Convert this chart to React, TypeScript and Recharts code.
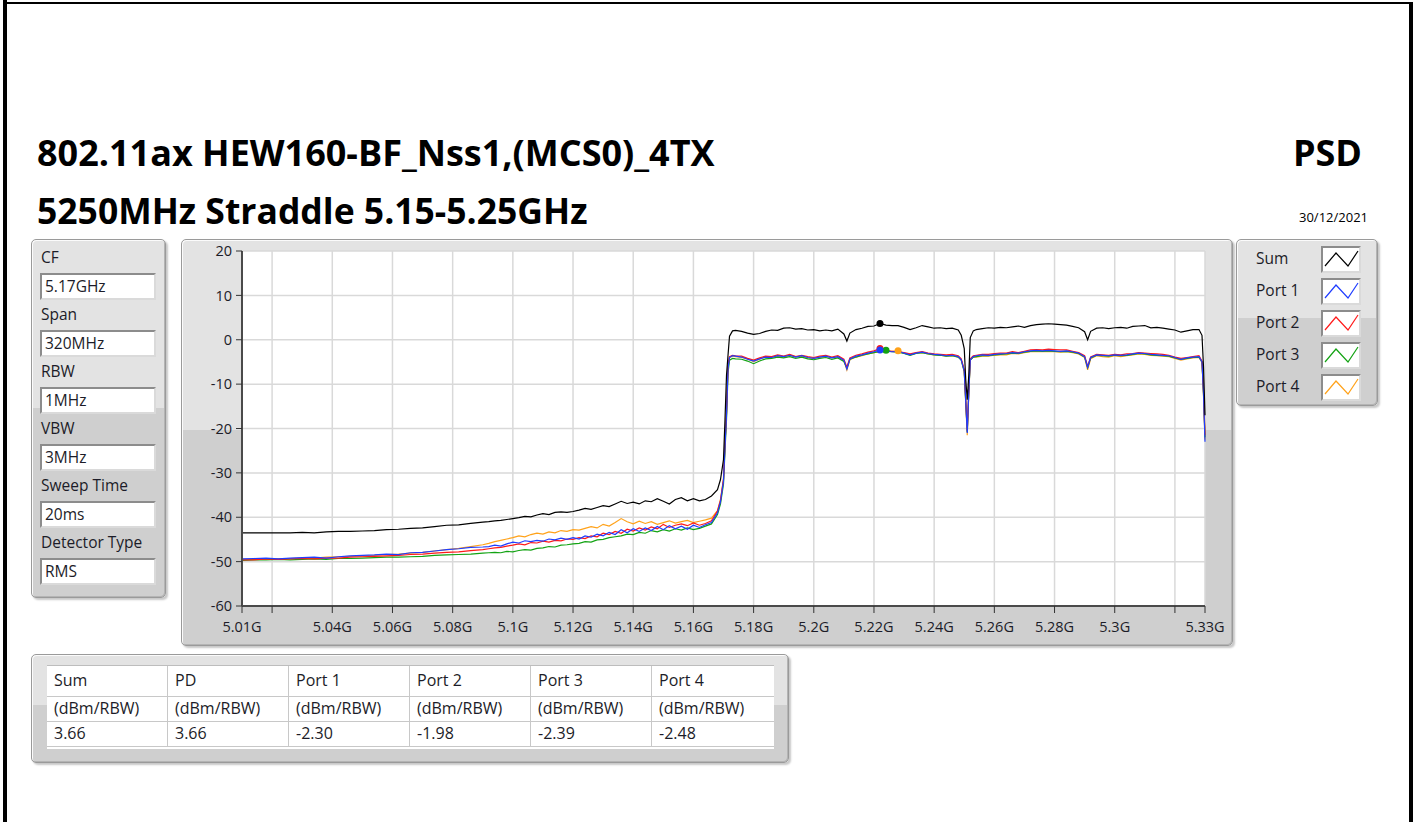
import React from 'react';
import { LineChart, Line, XAxis, YAxis, CartesianGrid, ReferenceDot } from 'recharts';

// frequency in MHz (5.01G .. 5.33G), denser at the band edges and notches
const FREQ_MHZ = [
  5010, 5014, 5018, 5022, 5026, 5030, 5034, 5038, 5042, 5046, 5050, 5054, 5058, 5062, 5066, 5070, 5074, 5078, 5082, 5086, 5090,
  5092, 5094, 5096, 5098, 5100, 5102, 5104, 5106, 5108, 5110, 5112, 5114, 5116, 5118, 5120, 5122, 5124, 5126, 5128, 5130,
  5132, 5134, 5136, 5138, 5140, 5142, 5144, 5146, 5148, 5150, 5152, 5154, 5156, 5158, 5160, 5162, 5164, 5166, 5168,
  5169, 5170, 5170.5, 5171, 5171.5, 5172, 5173, 5174,
  5176, 5178, 5180, 5182, 5184, 5186, 5188, 5190, 5192, 5194, 5196, 5198, 5200, 5202, 5204, 5206, 5208, 5210, 5211,
  5212, 5214, 5216, 5218, 5220, 5222, 5224, 5226, 5228, 5230, 5232, 5234, 5236, 5238, 5240, 5242, 5244, 5246, 5248,
  5249, 5250, 5250.5, 5251, 5251.5, 5252, 5253,
  5254, 5256, 5258, 5260, 5262, 5264, 5266, 5268, 5270, 5272, 5274, 5276, 5278, 5280, 5282, 5284, 5286, 5288, 5290, 5291,
  5292, 5294, 5296, 5298, 5300, 5302, 5304, 5306, 5308, 5310, 5312, 5314, 5316, 5318, 5320, 5322, 5324, 5326, 5328,
  5329, 5329.5, 5330,
];

const SUM = [
  -43.5, -43.5, -43.5, -43.5, -43.5, -43.4, -43.5, -43.3, -43.2, -43.2, -43.1, -43.0, -42.8, -42.7, -42.5, -42.4, -42.1, -41.8, -41.7, -41.4, -41.1,
  -41.0, -40.8, -40.7, -40.5, -40.3, -40.1, -39.8, -39.9, -39.5, -39.2, -39.4, -38.9, -38.8, -38.9, -38.7, -38.4, -38.0, -38.2, -37.8, -37.4,
  -37.6, -37.0, -36.4, -36.9, -36.6, -37.0, -36.3, -36.5, -35.8, -36.4, -37.0, -36.0, -35.6, -36.3, -35.8, -36.3, -36.0, -35.2, -33.8,
  -31.5, -27.0, -18.0, -8.0, -3.5, 0.8, 2.0, 2.1,
  1.9, 1.5, 1.2, 1.4, 1.9, 2.2, 2.1, 2.6, 2.7, 2.4, 2.5, 2.2, 2.3, 2.0, 2.2, 2.0, 2.4, 1.3, -0.3,
  1.5, 2.3, 2.6, 3.0, 3.1, 3.66, 3.3, 3.2, 3.2, 2.8, 2.3, 2.7, 3.2, 2.9, 2.6, 2.7, 2.5, 2.6, 2.2,
  1.0, -2.0, -9.0, -13.5, -8.0, 0.5, 2.0,
  2.3, 2.5, 2.7, 2.6, 2.8, 2.7, 2.9, 3.1, 2.8, 3.2, 3.4, 3.5, 3.6, 3.5, 3.4, 3.3, 3.0, 2.7, 1.8, 0.0,
  1.9, 2.6, 2.7, 2.5, 2.7, 2.8, 2.6, 3.0, 3.1, 3.2, 2.7, 2.8, 2.6, 2.4, 2.2, 1.7, 2.0, 2.3, 2.3,
  1.0, -6.0, -17.0,
];

const PORT1 = [
  -49.4, -49.3, -49.2, -49.4, -49.2, -49.1, -49.0, -49.2, -48.9, -48.7, -48.6, -48.5, -48.3, -48.4, -48.0, -47.9, -47.6, -47.3, -47.1, -46.8, -46.7,
  -46.6, -46.3, -46.5, -46.0, -45.6, -45.8, -45.3, -45.5, -45.2, -45.4, -44.9, -45.1, -44.7, -45.0, -44.6, -44.9, -44.2, -44.5, -43.8, -44.2,
  -43.4, -43.9, -42.8, -43.5, -42.6, -43.2, -42.4, -43.0, -42.1, -42.8, -41.9, -42.6, -42.0, -42.7, -41.8, -42.3, -41.7, -41.2, -39.0,
  -36.5, -31.8, -24.0, -17.0, -6.5, -4.0, -3.6, -3.7,
  -3.9, -4.4, -4.8, -4.3, -3.9, -4.0, -3.6, -3.8, -3.5, -3.9, -3.6, -4.0, -4.2, -3.9, -3.7, -4.1, -3.8, -4.6, -6.6,
  -4.3, -3.7, -3.4, -3.0, -2.7, -2.3, -2.6, -2.7, -2.6, -3.0, -3.4, -3.0, -2.8, -3.1, -3.3, -3.4, -3.6, -3.5, -3.8,
  -4.5, -7.0, -14.0, -21.0, -12.0, -4.5, -3.8,
  -3.6, -3.4, -3.5, -3.3, -3.2, -3.1, -2.9, -3.0, -2.7, -2.5, -2.4, -2.5, -2.4, -2.5, -2.6, -2.5, -2.7, -3.0, -3.8, -6.2,
  -4.0, -3.4, -3.5, -3.6, -3.4, -3.5, -3.4, -3.2, -3.0, -3.1, -3.3, -3.4, -3.5, -3.6, -4.0, -4.4, -4.1, -3.9, -3.8,
  -5.0, -12.0, -23.0,
];

const PORT2 = [
  -49.6, -49.6, -49.4, -49.5, -49.4, -49.3, -49.4, -49.2, -49.2, -49.0, -48.9, -48.8, -48.7, -48.6, -48.4, -48.3, -48.1, -47.9, -47.8, -47.5, -47.3,
  -47.1, -46.9, -46.8, -46.5, -46.3, -46.0, -46.2, -45.7, -45.8, -45.4, -45.6, -45.2, -45.3, -44.9, -45.0, -44.6, -44.8, -44.2, -44.4, -43.6,
  -43.9, -43.2, -43.6, -42.7, -43.1, -42.4, -42.9, -42.2, -42.6, -41.6, -42.3, -41.8, -41.5, -41.9, -41.3, -41.8, -41.4, -40.8, -38.6,
  -36.2, -31.5, -23.5, -16.5, -6.0, -3.8, -3.5, -3.6,
  -3.7, -4.2, -4.6, -4.1, -3.7, -3.8, -3.4, -3.7, -3.3, -3.8, -3.5, -3.8, -4.0, -3.7, -3.5, -3.9, -3.6, -4.4, -6.2,
  -4.1, -3.5, -3.2, -2.8, -2.5, -1.98, -2.5, -2.6, -2.7, -2.9, -3.2, -2.9, -2.7, -3.0, -3.2, -3.3, -3.4, -3.3, -3.6,
  -4.3, -6.8, -13.5, -20.5, -11.5, -4.3, -3.6,
  -3.5, -3.3, -3.3, -3.1, -3.0, -3.0, -2.7, -2.9, -2.6, -2.3, -2.2, -2.3, -2.1, -2.2, -2.3, -2.3, -2.6, -2.9, -3.6, -6.0,
  -3.9, -3.3, -3.4, -3.5, -3.3, -3.4, -3.2, -3.1, -2.9, -3.0, -3.1, -3.2, -3.3, -3.5, -3.9, -4.2, -4.0, -3.8, -3.6,
  -4.8, -11.5, -21.5,
];

const PORT3 = [
  -49.7, -49.6, -49.6, -49.5, -49.6, -49.5, -49.4, -49.5, -49.3, -49.3, -49.2, -49.1, -49.0, -49.0, -48.9, -48.8, -48.6, -48.5, -48.4, -48.3, -48.1,
  -48.0, -47.9, -48.0, -47.7, -47.8, -47.5, -47.3, -47.4, -47.0, -46.9, -46.6, -46.7, -46.3, -46.2, -46.0, -45.9, -45.5, -45.6, -45.1, -45.0,
  -44.6, -44.4, -44.2, -43.8, -43.9, -43.4, -43.6, -43.0, -43.3, -42.8, -43.1, -42.6, -42.9, -42.4, -42.8, -42.5, -42.0, -41.5, -39.4,
  -37.0, -32.5, -25.0, -18.0, -7.5, -4.6, -4.2, -4.3,
  -4.4, -4.8, -5.4, -4.8, -4.3, -4.2, -3.9, -4.1, -3.8, -4.2, -3.9, -4.3, -4.5, -4.2, -4.0, -4.4, -4.1, -4.9, -6.4,
  -4.4, -3.9, -3.5, -3.2, -2.9, -2.6, -2.39, -2.7, -2.8, -3.1, -3.5, -3.1, -2.9, -3.2, -3.4, -3.5, -3.7, -3.6, -3.9,
  -4.6, -7.2, -14.0, -20.8, -12.0, -4.6, -3.9,
  -3.8, -3.6, -3.6, -3.4, -3.3, -3.2, -3.0, -3.1, -2.8, -2.6, -2.5, -2.6, -2.5, -2.6, -2.7, -2.6, -2.8, -3.1, -3.9, -6.3,
  -4.1, -3.5, -3.6, -3.7, -3.5, -3.6, -3.5, -3.3, -3.1, -3.2, -3.4, -3.5, -3.6, -3.7, -4.1, -4.4, -4.2, -4.0, -3.9,
  -5.0, -12.0, -22.0,
];

const PORT4 = [
  -49.5, -49.5, -49.4, -49.4, -49.3, -49.2, -49.2, -49.0, -48.9, -48.8, -48.7, -48.6, -48.4, -48.3, -48.1, -47.9, -47.6, -47.3, -47.0, -46.6, -46.2,
  -45.9, -45.5, -45.2, -44.9, -44.6, -44.2, -44.4, -43.9, -43.6, -43.8, -43.3, -43.5, -43.0, -43.2, -42.8, -42.9, -42.5, -42.1, -42.4, -41.6,
  -42.0, -41.2, -40.3, -41.0, -41.5, -40.9, -41.4, -41.0, -41.6, -41.2, -40.8, -41.3, -41.0, -40.7, -41.2, -40.9, -40.6, -40.2, -38.5,
  -36.0, -31.3, -23.5, -16.5, -6.2, -4.0, -3.7, -3.8,
  -4.0, -4.3, -4.9, -4.4, -3.8, -3.9, -3.7, -3.9, -3.6, -3.8, -3.7, -4.1, -4.2, -3.9, -3.8, -4.0, -3.9, -4.7, -6.8,
  -4.5, -3.9, -3.6, -3.2, -2.9, -2.7, -2.6, -2.6, -2.48, -3.0, -3.4, -3.0, -2.9, -3.2, -3.4, -3.5, -3.7, -3.6, -3.9,
  -4.5, -7.1, -14.5, -21.5, -12.5, -4.6, -3.9,
  -3.9, -3.7, -3.7, -3.5, -3.4, -3.4, -3.1, -3.2, -2.9, -2.7, -2.6, -2.7, -2.6, -2.7, -2.8, -2.7, -2.9, -3.2, -4.0, -6.8,
  -4.3, -3.6, -3.8, -3.9, -3.6, -3.8, -3.6, -3.4, -3.2, -3.3, -3.5, -3.6, -3.7, -3.8, -4.2, -4.6, -4.3, -4.1, -4.0,
  -5.1, -12.5, -22.5,
];

// peak markers (Sum, Port 1..4)
const PEAK_FREQ = [5222, 5222, 5222, 5224, 5228];
const PEAK_VAL = [3.66, -2.30, -1.98, -2.39, -2.48];

const X_TICKS = [5010, 5020, 5040, 5060, 5080, 5100, 5120, 5140, 5160, 5180, 5200, 5220, 5240, 5260, 5280, 5300, 5320, 5330];
const X_TICK_LABELS = ['5.01G', '', '5.04G', '5.06G', '5.08G', '5.1G', '5.12G', '5.14G', '5.16G', '5.18G', '5.2G', '5.22G', '5.24G', '5.26G', '5.28G', '5.3G', '', '5.33G'];
const Y_TICKS = [-60, -50, -40, -30, -20, -10, 0, 10, 20];

const SERIES_NAMES = ['Sum', 'Port 1', 'Port 2', 'Port 3', 'Port 4'];
const SERIES_KEYS = ['sum', 'p1', 'p2', 'p3', 'p4'];
const SERIES_COLORS = ['#000000', '#1f3dff', '#ff1a1a', '#13a313', '#ffa21a'];

const SETTING_LABELS = ['CF', 'Span', 'RBW', 'VBW', 'Sweep Time', 'Detector Type'];
const SETTING_VALUES = ['5.17GHz', '320MHz', '1MHz', '3MHz', '20ms', 'RMS'];

const TABLE_HEAD = ['Sum', 'PD', 'Port 1', 'Port 2', 'Port 3', 'Port 4'];
const TABLE_UNITS = ['(dBm/RBW)', '(dBm/RBW)', '(dBm/RBW)', '(dBm/RBW)', '(dBm/RBW)', '(dBm/RBW)'];
const TABLE_VALUES = ['3.66', '3.66', '-2.30', '-1.98', '-2.39', '-2.48'];

const FONT = "'Open Sans', 'Noto Sans', sans-serif";
const TEXT = '#1c1c28';
const UI_SIZE = 15.5;

const rows = FREQ_MHZ.map((f, i) => ({
  f,
  sum: SUM[i],
  p1: PORT1[i],
  p2: PORT2[i],
  p3: PORT3[i],
  p4: PORT4[i],
}));

function Panel({ left, top, width, height, split = 0.47, children }: any) {
  const s = `${split * 100}%`;
  return (
    <div
      style={{
        position: 'absolute',
        left,
        top,
        width,
        height,
        boxSizing: 'border-box',
        border: '1px solid #9a9a9a',
        borderRadius: 5,
        background: `linear-gradient(#e3e3e3 0%, #e3e3e3 ${s}, #cfcfcf ${s}, #cfcfcf 100%)`,
        boxShadow: '2px 2px 2px rgba(0,0,0,0.22), inset 1px 1px 0 #fbfbfb, inset -1px -1px 0 #b4b4b4',
      }}
    >
      {children}
    </div>
  );
}

const boxStyle: React.CSSProperties = {
  position: 'absolute',
  background: '#fff',
  boxSizing: 'border-box',
  border: '2px solid',
  borderColor: '#8c8c8c #dadada #dadada #8c8c8c',
  fontSize: UI_SIZE,
  lineHeight: '22px',
  paddingLeft: 3,
  color: TEXT,
};

const TABLE_ROW_TOP = [0, 31, 56];
const TABLE_ROW_H = [31, 25, 25];

export default function App() {
  // drawing order: ports under, blue over red
  const drawOrder = [4, 3, 2, 1, 0];
  const dotOrder = [2, 3, 4, 1, 0];

  return (
    <div style={{ position: 'fixed', left: 0, top: 0, width: 1415, height: 822, background: '#fff', fontFamily: FONT, color: TEXT, overflow: 'hidden' }}>
      {/* frame */}
      <div style={{ position: 'absolute', left: 3, top: 0, width: 4, height: 822, background: '#000' }} />
      <div style={{ position: 'absolute', left: 3, top: 2, width: 1410, height: 2, background: '#000' }} />
      <div style={{ position: 'absolute', left: 1409, top: 2, width: 4, height: 820, background: '#000' }} />

      <svg width={1415} height={240} style={{ position: 'absolute', left: 0, top: 0 }}>
        <text x={37} y={166} fontSize={36} fontWeight={700} fill="#000" fontFamily={FONT}>802.11ax HEW160-BF_Nss1,(MCS0)_4TX</text>
        <text x={37} y={224} fontSize={35.5} fontWeight={700} fill="#000" fontFamily={FONT}>5250MHz Straddle 5.15-5.25GHz</text>
        <text x={1362} y={166} fontSize={36} fontWeight={700} fill="#000" fontFamily={FONT} textAnchor="end">PSD</text>
        <text x={1368} y={222} fontSize={13} fill="#000" fontFamily={FONT} textAnchor="end">30/12/2021</text>
      </svg>

      {/* settings panel */}
      <Panel left={31} top={239} width={135} height={359}>
        {SETTING_LABELS.map((lab, i) => (
          <React.Fragment key={lab}>
            <div style={{ position: 'absolute', left: 9, top: 7 + i * 57, fontSize: UI_SIZE, lineHeight: '20px' }}>{lab}</div>
            <div style={{ ...boxStyle, left: 8, top: 33 + i * 57, width: 116, height: 27 }}>{SETTING_VALUES[i]}</div>
          </React.Fragment>
        ))}
      </Panel>

      {/* graph panel */}
      <Panel left={181} top={239} width={1052} height={407} />
      <div style={{ position: 'absolute', left: 181, top: 240 }}>
        <LineChart width={1052} height={405} data={rows} margin={{ top: 11, right: 28, bottom: 0, left: 0 }}>
          <CartesianGrid stroke="#d9d9d9" strokeWidth={1.5} fill="#ffffff" />
          <XAxis
            dataKey="f"
            type="number"
            domain={[5010, 5330]}
            ticks={X_TICKS}
            interval={0}
            height={39}
            tickSize={7}
            tickMargin={9}
            tickFormatter={(v: number) => X_TICK_LABELS[X_TICKS.indexOf(v)]}
            tick={{ fill: TEXT, fontSize: 14.5, fontFamily: FONT }}
            axisLine={{ stroke: '#4a4a4a', strokeWidth: 2 }}
            tickLine={{ stroke: '#333' }}
          />
          <YAxis
            type="number"
            domain={[-60, 20]}
            ticks={Y_TICKS}
            interval={0}
            width={61}
            tickSize={6}
            tickMargin={4}
            tick={{ fill: TEXT, fontSize: 14.5, fontFamily: FONT }}
            axisLine={{ stroke: '#4a4a4a', strokeWidth: 2 }}
            tickLine={{ stroke: '#333' }}
          />
          {drawOrder.map((i) => (
            <Line
              key={SERIES_KEYS[i]}
              dataKey={SERIES_KEYS[i]}
              name={SERIES_NAMES[i]}
              type="linear"
              stroke={SERIES_COLORS[i]}
              strokeWidth={1.2}
              dot={false}
              isAnimationActive={false}
            />
          ))}
          {dotOrder.map((i) => (
            <ReferenceDot
              key={'pk' + i}
              x={PEAK_FREQ[i]}
              y={PEAK_VAL[i]}
              r={3.5}
              fill={SERIES_COLORS[i]}
              stroke="none"
            />
          ))}
        </LineChart>
      </div>

      {/* legend panel */}
      <Panel left={1236} top={239} width={142} height={167}>
        {SERIES_NAMES.map((name, i) => (
          <React.Fragment key={name}>
            <div style={{ position: 'absolute', left: 19, top: 8 + i * 32, fontSize: UI_SIZE, lineHeight: '20px' }}>{name}</div>
            <div style={{ ...boxStyle, left: 84, top: 6 + i * 32, width: 40, height: 27, paddingLeft: 0 }}>
              <svg width={36} height={23} style={{ position: 'absolute', left: 0, top: 0 }}>
                <polyline points="2,18 13,5 25,18 35,3" fill="none" stroke={SERIES_COLORS[i]} strokeWidth={1.2} />
              </svg>
            </div>
          </React.Fragment>
        ))}
      </Panel>

      {/* result table */}
      <Panel left={31} top={654} width={758} height={109}>
        <div style={{ position: 'absolute', left: 15, top: 10, width: 727, height: 83, background: '#fff', borderTop: '1px solid #bdbdbd' }}>
          {[TABLE_HEAD, TABLE_UNITS, TABLE_VALUES].map((row, r) => (
            <div key={r} style={{ position: 'absolute', left: 0, top: TABLE_ROW_TOP[r], height: TABLE_ROW_H[r], width: 727, boxSizing: 'border-box', borderBottom: '1px solid #c8c8c8' }}>
              {row.map((cell, c) => (
                <div
                  key={c}
                  style={{
                    position: 'absolute',
                    left: c * 121,
                    top: 0,
                    width: 121,
                    height: TABLE_ROW_H[r] - 1,
                    boxSizing: 'border-box',
                    borderRight: c < 5 ? '1px solid #c8c8c8' : 'none',
                    paddingLeft: 7,
                    fontSize: 16,
                    lineHeight: `${TABLE_ROW_H[r] - 2}px`,
                  }}
                >
                  {cell}
                </div>
              ))}
            </div>
          ))}
        </div>
      </Panel>
    </div>
  );
}
